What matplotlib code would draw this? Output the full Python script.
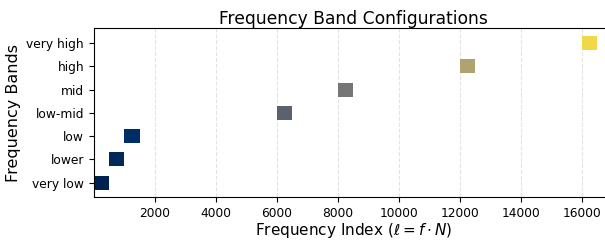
import numpy as np
import matplotlib
matplotlib.use("Agg")
import matplotlib.pyplot as plt

bands = ["very low", "lower", "low", "low-mid", "mid", "high", "very high"]
starts = [0, 500, 1000, 6000, 8000, 12000, 16000]
widths = [500, 500, 500, 500, 500, 500, 500]
xticks = [2000, 4000, 6000, 8000, 10000, 12000, 14000, 16000]

fig = plt.figure(figsize=(6.05, 2.4), dpi=100)
ax = fig.add_axes([0.155, 0.178, 0.86, 0.704])

cmap = plt.get_cmap("cividis")
colors = [cmap(s / 17000) for s in starts]
ax.barh(range(len(bands)), widths, left=starts, height=0.6, color=colors)

ax.set_yticks(range(len(bands)))
ax.set_yticklabels(bands, fontsize=8.8)
ax.set_xticks(xticks)
ax.set_xticklabels([str(t) for t in xticks], fontsize=8.8)
ax.set_xlim(0, 17050)
ax.grid(axis="x", linestyle="--", alpha=0.35)
ax.set_axisbelow(True)

ax.set_xlabel(r"Frequency Index ($\ell = f \cdot N$)", fontsize=11, labelpad=1)
ax.set_ylabel("Frequency Bands", fontsize=11.5)
ax.set_title("Frequency Band Configurations", fontsize=12.3, pad=3)

fig.savefig("out.png", dpi=100)
